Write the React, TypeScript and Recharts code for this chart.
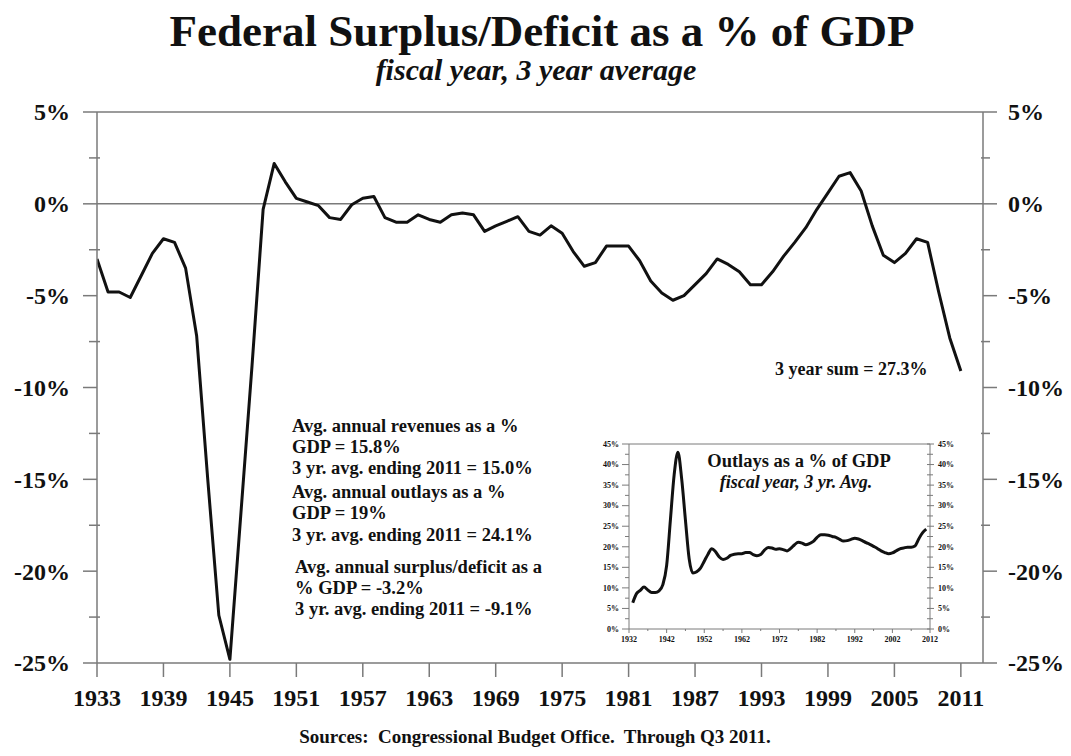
import React from 'react';
import { LineChart, Line, XAxis, YAxis, ReferenceLine } from 'recharts';

const FONT = '"Liberation Serif", "Times New Roman", Times, serif';
const AXIS = '#7a7a7a';
const INK = '#111111';

// Main chart: federal surplus/deficit as % of GDP, 3-year average
const years = [
  1933, 1934, 1935, 1936, 1937, 1938, 1939, 1940, 1941, 1942,
  1943, 1944, 1945, 1946, 1947, 1948, 1949, 1950, 1951, 1952,
  1953, 1954, 1955, 1956, 1957, 1958, 1959, 1960, 1961, 1962,
  1963, 1964, 1965, 1966, 1967, 1968, 1969, 1970, 1971, 1972,
  1973, 1974, 1975, 1976, 1977, 1978, 1979, 1980, 1981, 1982,
  1983, 1984, 1985, 1986, 1987, 1988, 1989, 1990, 1991, 1992,
  1993, 1994, 1995, 1996, 1997, 1998, 1999, 2000, 2001, 2002,
  2003, 2004, 2005, 2006, 2007, 2008, 2009, 2010, 2011,
];

const surplusDeficit = [
  -3.0, -4.8, -4.8, -5.1, -3.9, -2.7, -1.9, -2.1, -3.5, -7.2,
  -15.0, -22.4, -24.8, -16.8, -8.8, -0.3, 2.2, 1.2, 0.3, 0.1,
  -0.1, -0.75, -0.85, -0.05, 0.3, 0.4, -0.75, -1.0, -1.0, -0.6,
  -0.85, -1.0, -0.6, -0.5, -0.6, -1.5, -1.2, -0.95, -0.7, -1.5,
  -1.7, -1.2, -1.6, -2.6, -3.4, -3.2, -2.3, -2.3, -2.3, -3.1,
  -4.2, -4.85, -5.25, -5.0, -4.4, -3.8, -3.0, -3.3, -3.7, -4.4,
  -4.4, -3.7, -2.85, -2.1, -1.3, -0.3, 0.6, 1.5, 1.7, 0.7,
  -1.2, -2.8, -3.2, -2.7, -1.9, -2.1, -4.8, -7.3, -9.1,
];

// Inset: outlays as % of GDP, 3-year average
const outlays = [
  6.4, 8.6, 9.4, 10.2, 9.5, 8.9, 8.9, 9.3, 10.8, 15.4,
  26.5, 37.5, 43.0, 36.5, 26.5, 17.0, 13.6, 13.9, 14.8, 16.5,
  18.2, 19.5, 18.8, 17.5, 16.9, 17.2, 17.9, 18.2, 18.3, 18.3,
  18.6, 18.6, 18.1, 17.8, 18.1, 19.2, 19.8, 19.7, 19.4, 19.5,
  19.3, 19.0, 19.6, 20.5, 21.1, 20.9, 20.5, 20.8, 21.3, 22.3,
  22.9, 22.9, 22.8, 22.5, 22.3, 21.8, 21.4, 21.5, 21.8, 22.1,
  21.9, 21.5, 21.0, 20.6, 20.1, 19.6, 19.0, 18.6, 18.3, 18.5,
  19.0, 19.5, 19.7, 19.9, 19.9, 20.2, 21.9, 23.4, 24.3,
];

const xTicks = [1933, 1939, 1945, 1951, 1957, 1963, 1969, 1975, 1981, 1987, 1993, 1999, 2005, 2011];
const yTicks = [5, 2.5, 0, -2.5, -5, -7.5, -10, -12.5, -15, -17.5, -20, -22.5, -25];

const insetXTicks = [1932, 1937, 1942, 1947, 1952, 1957, 1962, 1967, 1972, 1977, 1982, 1987, 1992, 1997, 2002, 2007, 2012];
const insetXLabels = [1932, 1942, 1952, 1962, 1972, 1982, 1992, 2002, 2012];
const insetYTicks = [0, 2.5, 5, 7.5, 10, 12.5, 15, 17.5, 20, 22.5, 25, 27.5, 30, 32.5, 35, 37.5, 40, 42.5, 45];

const notes = [
  'Avg. annual revenues as a %',
  'GDP = 15.8%',
  '3 yr. avg. ending 2011 = 15.0%',
  'Avg. annual outlays as a %',
  'GDP = 19%',
  '3 yr. avg. ending 2011 = 24.1%',
  'Avg. annual surplus/deficit as a',
  '% GDP = -3.2%',
  '3 yr. avg. ending 2011 = -9.1%',
];

const mainData = years.map((year, i) => ({ year, v: surplusDeficit[i] }));
const insetData = years.map((year, i) => ({ year, v: outlays[i] }));

const isMajor = (v: number, step: number) => Math.abs(v % step) < 1e-9;

const LeftTick = (props: any) => {
  const { x, y, payload } = props;
  const v = payload.value as number;
  const major = isMajor(v, 5);
  return (
    <g>
      <line x1={major ? x - 14 : x - 8} x2={major ? x : x + 3} y1={y} y2={y} stroke={AXIS} strokeWidth={1.5} />
      {major && (
        <text x={x - 27} y={y} dy="0.35em" textAnchor="end" fontFamily={FONT} fontWeight="bold" fontSize={24} fill={INK}>
          {`${v}%`}
        </text>
      )}
    </g>
  );
};

const RightTick = (props: any) => {
  const { x, y, payload } = props;
  const v = payload.value as number;
  const major = isMajor(v, 5);
  return (
    <g>
      <line x1={major ? x : x - 2} x2={major ? x + 14 : x + 7} y1={y} y2={y} stroke={AXIS} strokeWidth={1.5} />
      {major && (
        <text x={x + 25} y={y} dy="0.35em" textAnchor="start" fontFamily={FONT} fontWeight="bold" fontSize={24} fill={INK}>
          {`${v}%`}
        </text>
      )}
    </g>
  );
};

const BottomTick = (props: any) => {
  const { x, y, payload } = props;
  return (
    <g>
      <line x1={x} x2={x} y1={y} y2={y + 14} stroke={AXIS} strokeWidth={1.5} />
      <text x={x} y={y + 43} textAnchor="middle" fontFamily={FONT} fontWeight="bold" fontSize={24} fill={INK}>
        {payload.value}
      </text>
    </g>
  );
};

const InsetLeftTick = (props: any) => {
  const { x, y, payload } = props;
  const v = payload.value as number;
  const major = isMajor(v, 5);
  return (
    <g>
      <line x1={major ? x - 7 : x - 4} x2={x} y1={y} y2={y} stroke={AXIS} strokeWidth={1} />
      {major && (
        <text x={x - 10} y={y} dy="0.35em" textAnchor="end" fontFamily={FONT} fontWeight="bold" fontSize={8} fill={INK}>
          {`${v}%`}
        </text>
      )}
    </g>
  );
};

const InsetRightTick = (props: any) => {
  const { x, y, payload } = props;
  const v = payload.value as number;
  const major = isMajor(v, 5);
  return (
    <g>
      <line x1={x - 3} x2={major ? x + 4 : x + 3} y1={y} y2={y} stroke={AXIS} strokeWidth={1} />
      {major && (
        <text x={x + 8} y={y} dy="0.35em" textAnchor="start" fontFamily={FONT} fontWeight="bold" fontSize={8} fill={INK}>
          {`${v}%`}
        </text>
      )}
    </g>
  );
};

const InsetBottomTick = (props: any) => {
  const { x, y, payload } = props;
  const v = payload.value as number;
  const labeled = insetXLabels.includes(v);
  return (
    <g>
      <line x1={x} x2={x} y1={y} y2={y + (labeled ? 4 : 2)} stroke={AXIS} strokeWidth={1} />
      {labeled && (
        <text x={x} y={y + 13} textAnchor="middle" fontFamily={FONT} fontWeight="bold" fontSize={8} fill={INK}>
          {v}
        </text>
      )}
    </g>
  );
};

export default function App() {
  return (
    <div style={{ position: 'absolute', left: 0, top: 0, width: 1071, height: 756, background: '#ffffff', overflow: 'hidden' }}>
      <div style={{ position: 'absolute', left: 0, top: 0 }}>
        <LineChart width={1071} height={756} data={mainData} margin={{ top: 112, right: 0, bottom: 0, left: 0 }}>
          <XAxis
            dataKey="year"
            type="number"
            domain={[1933, 2013]}
            ticks={xTicks}
            interval={0}
            allowDataOverflow
            height={93}
            tickSize={0}
            tickMargin={0}
            tickLine={false}
            tick={<BottomTick />}
            axisLine={{ stroke: AXIS, strokeWidth: 1.5 }}
          />
          <YAxis
            yAxisId="l"
            orientation="left"
            type="number"
            domain={[-25, 5]}
            ticks={yTicks}
            interval={0}
            allowDataOverflow
            width={97}
            tickSize={0}
            tickMargin={0}
            tickLine={false}
            tick={<LeftTick />}
            axisLine={{ stroke: AXIS, strokeWidth: 1.5 }}
          />
          <YAxis
            yAxisId="r"
            orientation="right"
            type="number"
            domain={[-25, 5]}
            ticks={yTicks}
            interval={0}
            allowDataOverflow
            width={88}
            tickSize={0}
            tickMargin={0}
            tickLine={false}
            tick={<RightTick />}
            axisLine={{ stroke: AXIS, strokeWidth: 1.5 }}
          />
          <ReferenceLine yAxisId="l" y={5} stroke={AXIS} strokeWidth={1.5} />
          <ReferenceLine yAxisId="l" y={0} stroke={AXIS} strokeWidth={1.5} />
          <Line yAxisId="r" dataKey="v" stroke="none" dot={false} activeDot={false} isAnimationActive={false} />
          <Line
            yAxisId="l"
            type="linear"
            dataKey="v"
            stroke={INK}
            strokeWidth={3}
            strokeLinejoin="round"
            dot={false}
            activeDot={false}
            isAnimationActive={false}
          />
        </LineChart>
      </div>

      <div style={{ position: 'absolute', left: 590, top: 436 }}>
        <LineChart width={380} height={215} data={insetData} margin={{ top: 8, right: 0, bottom: 0, left: 0 }}>
          <XAxis
            dataKey="year"
            type="number"
            domain={[1932, 2012]}
            ticks={insetXTicks}
            interval={0}
            allowDataOverflow
            height={22}
            tickSize={0}
            tickMargin={0}
            tickLine={false}
            tick={<InsetBottomTick />}
            axisLine={{ stroke: AXIS, strokeWidth: 1 }}
          />
          <YAxis
            yAxisId="l"
            orientation="left"
            type="number"
            domain={[0, 45]}
            ticks={insetYTicks}
            interval={0}
            allowDataOverflow
            width={39}
            tickSize={0}
            tickMargin={0}
            tickLine={false}
            tick={<InsetLeftTick />}
            axisLine={{ stroke: AXIS, strokeWidth: 1 }}
          />
          <YAxis
            yAxisId="r"
            orientation="right"
            type="number"
            domain={[0, 45]}
            ticks={insetYTicks}
            interval={0}
            allowDataOverflow
            width={40}
            tickSize={0}
            tickMargin={0}
            tickLine={false}
            tick={<InsetRightTick />}
            axisLine={{ stroke: AXIS, strokeWidth: 1 }}
          />
          <ReferenceLine yAxisId="l" y={45} stroke={AXIS} strokeWidth={1} />
          <Line yAxisId="r" dataKey="v" stroke="none" dot={false} activeDot={false} isAnimationActive={false} />
          <Line
            yAxisId="l"
            type="monotone"
            dataKey="v"
            stroke={INK}
            strokeWidth={3}
            dot={false}
            activeDot={false}
            isAnimationActive={false}
          />
        </LineChart>
      </div>

      <svg width={1071} height={756} style={{ position: 'absolute', left: 0, top: 0, pointerEvents: 'none' }}>
        <g fontFamily={FONT} fill={INK}>
          <text x={542} y={46} textAnchor="middle" fontWeight="bold" fontSize={45}>
            Federal Surplus/Deficit as a % of GDP
          </text>
          <text x={536} y={80} textAnchor="middle" fontWeight="bold" fontStyle="italic" fontSize={30}>
            fiscal year, 3 year average
          </text>
          {notes.map((t, i) => (
            <text
              key={i}
              x={i >= 6 ? 295 : 292}
              y={[432, 453, 474, 498, 519, 541, 573, 594, 615][i]}
              fontWeight="bold"
              fontSize={18.5}
            >
              {t}
            </text>
          ))}
          <text x={775} y={375} fontWeight="bold" fontSize={18}>
            3 year sum = 27.3%
          </text>
          <text x={799} y={467} textAnchor="middle" fontWeight="bold" fontSize={18.5}>
            Outlays as a % of GDP
          </text>
          <text x={796} y={488} textAnchor="middle" fontWeight="bold" fontStyle="italic" fontSize={18}>
            fiscal year, 3 yr. Avg.
          </text>
          <text x={535} y={743} textAnchor="middle" fontWeight="bold" fontSize={19} style={{ whiteSpace: 'pre' }}>
            {'Sources:  Congressional Budget Office.  Through Q3 2011.'}
          </text>
        </g>
      </svg>
    </div>
  );
}
